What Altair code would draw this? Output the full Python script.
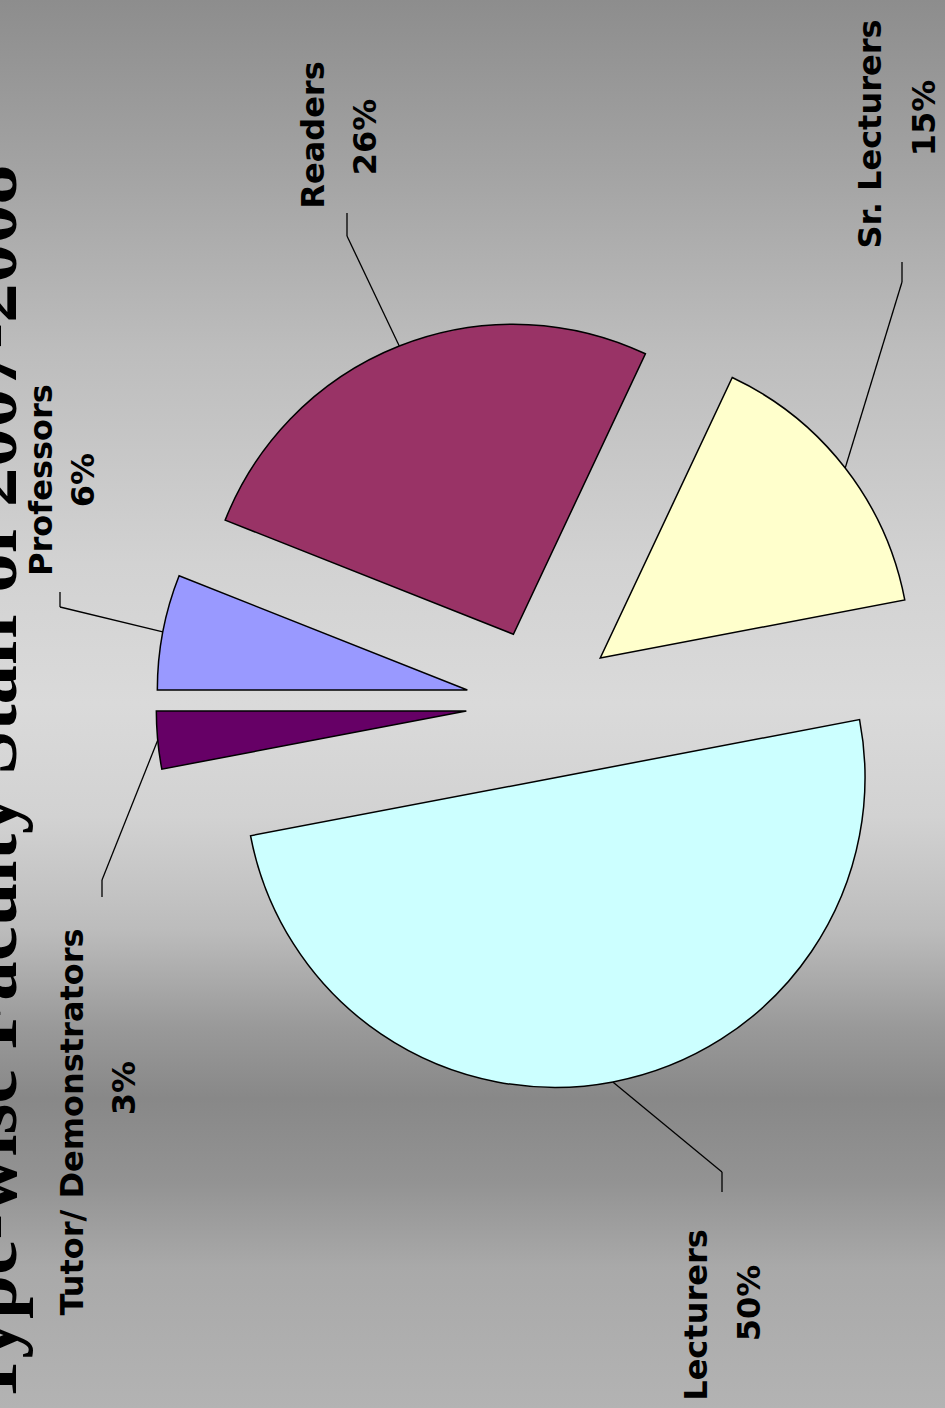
import altair as alt
import pandas as pd

# Faculty composition (share of staff, %)
categories = ["Professors", "Readers", "Sr. Lecturers", "Lecturers", "Tutor/ Demonstrators"]
shares = [6, 26, 15, 50, 3]
fills = ["#9999ff", "#993366", "#ffffcc", "#ccffff", "#660066"]

# Label layout in pixels: centre of the name line, centre of the percent line,
# and the short leader tick next to each label (elbow end and label end).
name_x = [42, 314, 871, 697, 73]
name_y = [480, 135, 134, 1315, 1122]
pct_x = [84, 366, 925, 750, 125]
pct_y = [480, 137, 118, 1303, 1088]
tick_x = [60, 347, 902, 722, 102]
tick_elbow = [607, 236, 282, 1172, 880]
tick_end = [592, 213, 262, 1192, 897]

TITLE = "Type-wise Faculty Staff of 2007-2008"

W, H = 945, 1408
CX, CY = 541, 704      # pie centre
EXPLODE = 75           # distance each slice is pulled out
RADIUS = 310

df = pd.DataFrame({
    "category": categories,
    "share": shares,
    "order": list(range(len(categories))),
    "name_x": name_x, "name_y": name_y,
    "pct_x": pct_x, "pct_y": pct_y,
    "tick_x": tick_x, "tick_elbow": tick_elbow, "tick_end": tick_end,
})

px = lambda f: alt.X(f, type="quantitative", scale=None, axis=None)
py = lambda f: alt.Y(f, type="quantitative", scale=None, axis=None)

base = (
    alt.Chart(df)
    .transform_window(cum="sum(share)", sort=[alt.SortField("order")])
    .transform_calculate(t0="1.5*PI + 2*PI*(datum.cum - datum.share)/100")
    .transform_calculate(t1="1.5*PI + 2*PI*datum.cum/100")
    .transform_calculate(mid="(datum.t0 + datum.t1)/2")
    .transform_calculate(cx=f"{CX} + {EXPLODE}*sin(datum.mid)")
    .transform_calculate(cy=f"{CY} - {EXPLODE}*cos(datum.mid)")
    .transform_calculate(ax=f"datum.cx + {RADIUS}*sin(datum.mid)")
    .transform_calculate(ay=f"datum.cy - {RADIUS}*cos(datum.mid)")
    .transform_calculate(pct="datum.share + '%'")
)

one = alt.Data(values=[{}])

background = alt.Chart(one).mark_rect(
    color=alt.Gradient(
        gradient="linear",
        x1=0, x2=0, y1=0, y2=1,
        stops=[
            alt.GradientStop(color="#8d8d8d", offset=0.0),
            alt.GradientStop(color="#a3a3a3", offset=0.12),
            alt.GradientStop(color="#bdbdbd", offset=0.25),
            alt.GradientStop(color="#d2d2d2", offset=0.40),
            alt.GradientStop(color="#dadada", offset=0.50),
            alt.GradientStop(color="#d2d2d2", offset=0.58),
            alt.GradientStop(color="#bcbcbc", offset=0.66),
            alt.GradientStop(color="#999999", offset=0.73),
            alt.GradientStop(color="#888888", offset=0.78),
            alt.GradientStop(color="#939393", offset=0.84),
            alt.GradientStop(color="#a9a9a9", offset=0.90),
            alt.GradientStop(color="#b3b3b3", offset=1.0),
        ],
    )
).encode(x=alt.value(0), x2=alt.value(W), y=alt.value(0), y2=alt.value(H))

# Slide title, running off the left edge
title = alt.Chart(one).mark_text(
    text=TITLE, angle=270, font="Liberation Serif", fontWeight="bold",
    fontSize=79, align="center", baseline="alphabetic", color="black",
).encode(x=alt.value(16), y=alt.value(785))

slices = base.mark_arc(radius=RADIUS, stroke="black", strokeWidth=1.5).encode(
    x=px("cx"),
    y=py("cy"),
    theta=alt.Theta("t0:Q", scale=None, stack=None),
    theta2="t1:Q",
    color=alt.Color("category:N", scale=alt.Scale(domain=categories, range=fills), legend=None),
)

leader = base.mark_rule(color="black", strokeWidth=1.3).encode(
    x=px("ax"), y=py("ay"), x2="tick_x:Q", y2="tick_elbow:Q",
)
tick = base.mark_rule(color="black", strokeWidth=1.3).encode(
    x=px("tick_x"), y=py("tick_elbow"), x2="tick_x:Q", y2="tick_end:Q",
)

label_style = dict(angle=270, font="DejaVu Sans", fontWeight="bold", fontSize=32,
                   align="center", baseline="middle", color="black")
names = base.mark_text(**label_style).encode(x=px("name_x"), y=py("name_y"), text="category:N")
pcts = base.mark_text(**label_style).encode(x=px("pct_x"), y=py("pct_y"), text="pct:N")

chart = (
    alt.layer(background, title, slices, leader, tick, names, pcts)
    .properties(width=W, height=H, padding=0, autosize="none")
    .configure_view(stroke=None)
)

chart.save("out.html", embed_options={"renderer": "svg", "actions": False})
